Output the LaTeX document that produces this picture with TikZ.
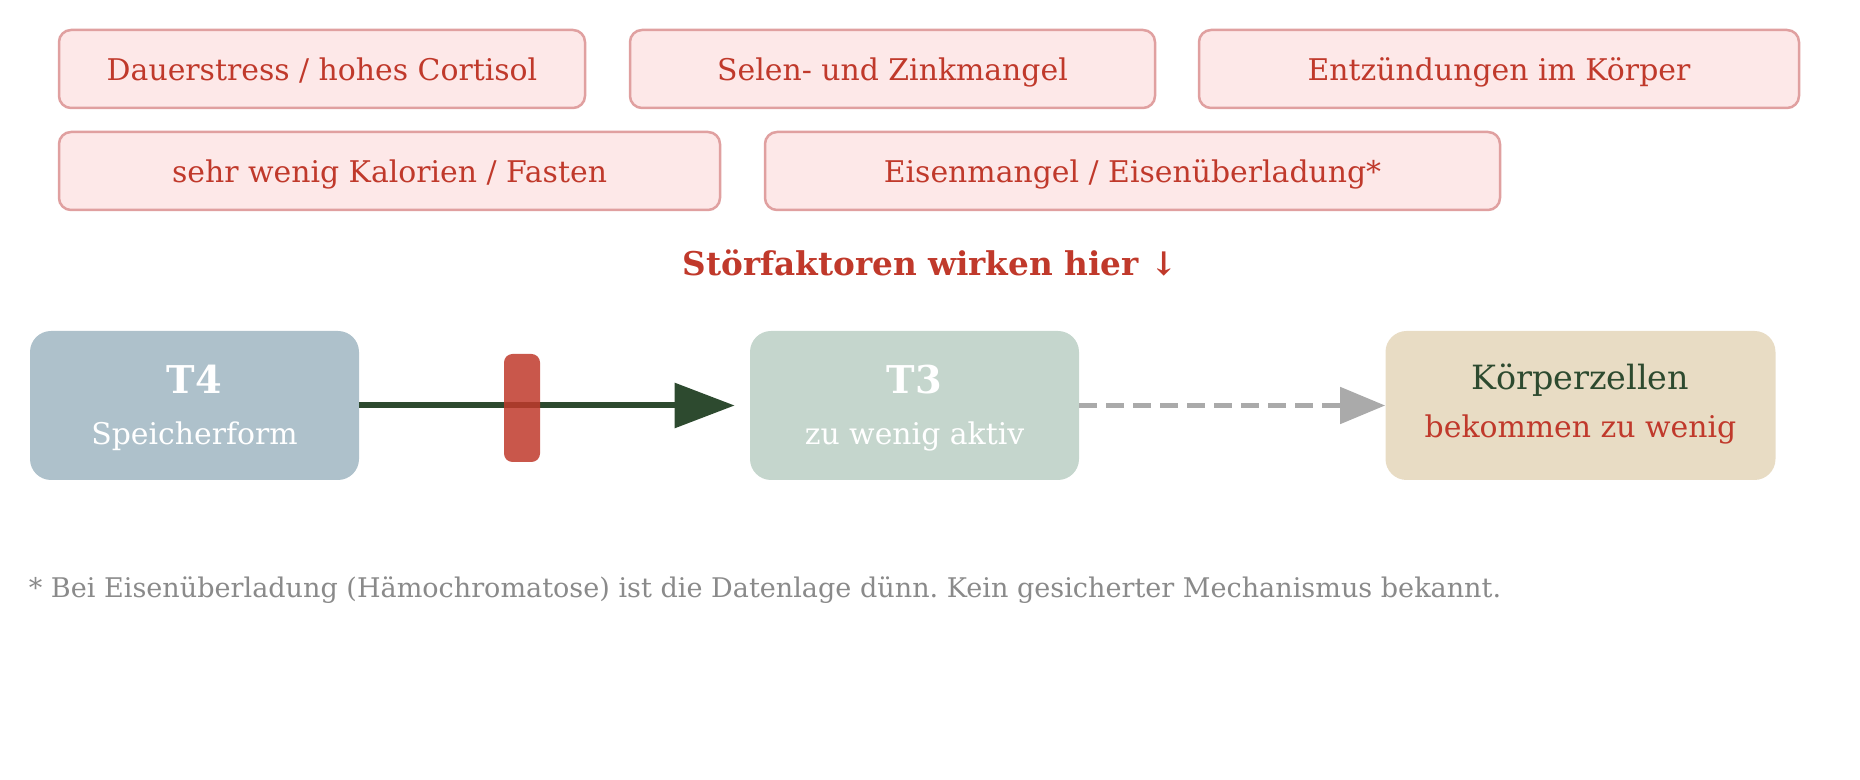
\documentclass[tikz,border=0pt]{standalone}
\usepackage{fontspec}
\setmainfont{DejaVu Serif}
\usetikzlibrary{arrows.meta, positioning}
\frenchspacing

\definecolor{stoerred}{HTML}{C0392B}
\definecolor{stoerfill}{HTML}{FDE8E8}
\definecolor{stoerline}{HTML}{E0A0A0}
\definecolor{tfourfill}{HTML}{AEC1CB}
\definecolor{tthreefill}{HTML}{C5D6CD}
\definecolor{cellfill}{HTML}{E8DCC4}
\definecolor{darkgreen}{HTML}{2D4A2F}
\definecolor{notegray}{HTML}{8A8A8A}
\definecolor{dashgray}{HTML}{AAAAAA}

\begin{document}
\begin{tikzpicture}[>=Stealth,
		factor/.style={rectangle, rounded corners=0.24cm, draw=stoerline, line width=0.05cm, fill=stoerfill, text=stoerred, minimum height=1.56cm, text height=13.6pt, text depth=0pt, font=\fontsize{17}{20}\selectfont},
		stage/.style={rectangle, rounded corners=0.42cm, minimum width=6.58cm, minimum height=2.98cm},
		stagename/.style={anchor=base, inner sep=0pt, font=\fontsize{21.8}{24}\selectfont\bfseries},
		stagetext/.style={anchor=base, inner sep=0pt, font=\fontsize{17}{20}\selectfont}]

		\useasboundingbox (0,0) rectangle (37.2,-15.6);

		% Stoerfaktoren
		\node[factor, minimum width=10.52cm] (stress) at (6.44, -1.38) {Dauerstress / hohes Cortisol};
		\node[factor, minimum width=10.5cm] (selen) at (17.85, -1.38) {Selen- und Zinkmangel};
		\node[factor, minimum width=12.0cm] (entz) at (29.98, -1.38) {Entzündungen im Körper};
		\node[factor, minimum width=13.22cm] (kalorien) at (7.79, -3.42) {sehr wenig Kalorien / Fasten};
		\node[factor, minimum width=14.7cm] (eisen) at (22.65, -3.42) {Eisenmangel / Eisenüberladung*};

		\node[anchor=base, inner sep=0pt, text=stoerred, font=\fontsize{18.6}{22}\selectfont\bfseries] (hinweis) at (18.6, -5.52) {Störfaktoren wirken hier ↓};

		% Kette
		\node[stage, fill=tfourfill] (t4) at (3.89, -8.11) {};
		\node[stagename, text=white] (t4name) at ([yshift=0.23cm]t4.center) {T4};
		\node[stagetext, text=white] (t4text) at ([yshift=-0.79cm]t4.center) {Speicherform};

		\node[stage, fill=tthreefill] (t3) at (18.29, -8.11) {};
		\node[stagename, text=white] (t3name) at ([yshift=0.23cm]t3.center) {T3};
		\node[stagetext, text=white] (t3text) at ([yshift=-0.79cm]t3.center) {zu wenig aktiv};

		\node[stage, fill=cellfill, minimum width=7.8cm] (zellen) at (31.61, -8.11) {};
		\node[stagetext, text=darkgreen, font=\fontsize{19}{22}\selectfont] (zellenname) at ([yshift=0.31cm]zellen.center) {Körperzellen};
		\node[stagetext, text=stoerred] (zellentext) at ([yshift=-0.65cm]zellen.center) {bekommen zu wenig};

		\draw[-{Triangle[length=1.2cm, width=0.88cm]}, line width=0.12cm, darkgreen, shorten >=0.3cm] (t4) -- (t3);
		\node[rectangle, rounded corners=0.17cm, fill=stoerred, fill opacity=0.85, minimum width=0.72cm, minimum height=2.16cm] (block) at (10.44, -8.16) {};
		\draw[-{Triangle[length=0.9cm, width=0.72cm]}, line width=0.1cm, dashgray, dash pattern=on 0.36cm off 0.18cm] (t3) -- (zellen);

		\node[anchor=base west, inner sep=0pt, text=notegray, font=\fontsize{15.4}{18}\selectfont] (fussnote) at (0.57, -11.96) {* Bei Eisenüberladung (Hämochromatose) ist die Datenlage dünn. Kein gesicherter Mechanismus bekannt.};

	\end{tikzpicture}
\end{document}
